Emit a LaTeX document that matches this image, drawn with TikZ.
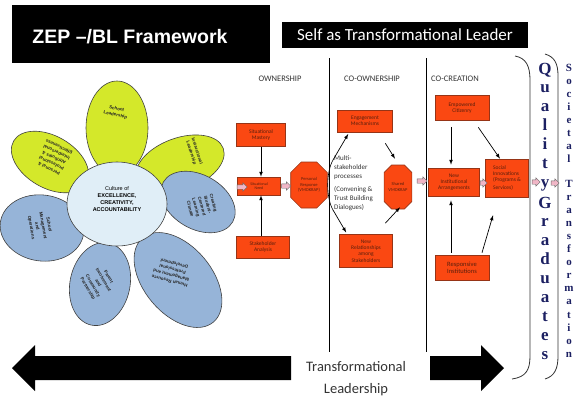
\documentclass[tikz,border=0pt]{standalone}
\usepackage{fontspec}
\setmainfont{Carlito}
\newfontfamily\arialfont{Liberation Sans}
\newfontfamily\letterfont{Liberation Serif}
\usetikzlibrary{shapes.arrows,shapes.misc}

\definecolor{petalgreen}{RGB}{212,232,42}
\definecolor{petalblue}{RGB}{150,180,216}
\definecolor{coreblue}{RGB}{224,238,247}
\definecolor{boxred}{RGB}{250,72,18}
\definecolor{boxedge}{RGB}{150,52,22}
\definecolor{pinkfill}{RGB}{240,182,198}
\definecolor{navyletter}{RGB}{28,32,98}

\tikzset{
  petal/.style={draw=black!75, line width=0.6pt},
  petaltext/.style={font=\arialfont\bfseries\fontsize{4.5}{6}\selectfont, align=center, inner sep=0pt, text=black!85},
  redbox/.style={draw=boxedge, fill=boxred, line width=0.6pt, align=center, inner sep=1pt,
    font=\fontsize{5.5}{6.2}\selectfont, text=boxedge!60!black},
  octa/.style={redbox, chamfered rectangle, chamfered rectangle xsep=8pt, inner sep=0pt,
    font=\fontsize{4.5}{5.5}\selectfont},
  pinkarr/.style={single arrow, draw=black!60, fill=pinkfill, minimum height=10pt, inner sep=2pt,
    single arrow head extend=2pt, line width=0.4pt},
  header/.style={font=\fontsize{8.5}{10}\selectfont, text=black!80},
  flow/.style={-latex, line width=0.7pt},
  qletter/.style={font=\letterfont\bfseries\fontsize{17}{17}\selectfont, text=navyletter, anchor=base},
  sletter/.style={font=\letterfont\bfseries\fontsize{11}{11}\selectfont, text=navyletter, anchor=base},
}

\begin{document}
\begin{tikzpicture}[x=1pt,y=-1pt]
    \useasboundingbox (0,0) rectangle (580,405);

    % title boxes
    \node[fill=black, minimum width=258, minimum height=58, inner sep=0pt] (titlebox) at (141,34) {};
    \node[text=white, font=\arialfont\bfseries\fontsize{19.5}{20}\selectfont] (title) at (130,37) {ZEP –/BL Framework};
    \node[fill=black, text=white, minimum width=246, minimum height=26, inner sep=0pt,
      font=\fontsize{17}{18}\selectfont] (selfbox) at (405,35) {Self as Transformational Leader};

    % flower: petals
    \draw[petal, fill=petalgreen] (117,128) ellipse [x radius=31, y radius=47];
    \draw[petal, fill=petalgreen, rotate around={20:(180,164)}] (180,164) ellipse [x radius=46, y radius=26];
    \draw[petal, fill=petalgreen, rotate around={-30:(50,162)}] (50,162) ellipse [x radius=42, y radius=26];
    \draw[petal, fill=petalblue, rotate around={-8:(42,228)}] (42,228) ellipse [x radius=42, y radius=33];
    \draw[petal, fill=petalblue, rotate around={-12:(100,284)}] (100,284) ellipse [x radius=30, y radius=42];
    \draw[petal, fill=petalblue, rotate around={-50:(178,280)}] (178,280) ellipse [x radius=55, y radius=34];
    \draw[petal, fill=petalblue, rotate around={-30:(198,202)}] (198,202) ellipse [x radius=40, y radius=27];
    \draw[petal, fill=coreblue] (117,204) ellipse [x radius=50, y radius=42];

    \node[petaltext, rotate=-12] (schlead) at (116,112) {School\\Leadership};
    \node[petaltext, rotate=-72] (instlead) at (194,152) {Instructional\\Leadership};
    \node[petaltext, rotate=155] (persattr) at (54,158) {Personal \&\\Professional\\Attributes \&\\Interpersonal\\Effectiveness};
    \node[petaltext, rotate=-80] (schmgmt) at (40,226) {School\\Management\\and\\Operations};
    \node[petaltext, rotate=-60] (parent) at (98,283) {Parent\\Involvement\\and\\Community\\Partnership};
    \node[petaltext, rotate=165] (hrmgmt) at (172,272) {Human Resource\\Management and\\Professional\\Development};
    \node[petaltext, rotate=-75] (climate) at (202,206) {Creating\\Student-\\Centered\\Learning\\Climate};
    \node[font=\arialfont\fontsize{5.5}{7}\selectfont, align=center, inner sep=0pt] (culture) at (117,199)
      {Culture of\\\textbf{EXCELLENCE,}\\\textbf{CREATIVITY,}\\\textbf{ACCOUNTABILITY}};

    % column dividers
    \draw[line width=0.7pt] (329,58) -- (329,352);
    \draw[line width=0.7pt] (426,58) -- (426,352);
    \draw[line width=0.8pt, black!80] (515,56) .. controls (526,58) and (530,66) .. (530,80) -- (530,356)
      .. controls (530,370) and (526,377) .. (512,379);
    \draw[line width=0.8pt, black!80] (545,54) .. controls (555,57) and (558,64) .. (558,76) -- (558,356)
      .. controls (558,368) and (555,376) .. (545,379);

    \node[header] (own) at (280,79) {OWNERSHIP};
    \node[header] (coown) at (372,79) {CO-OWNERSHIP};
    \node[header] (cocreate) at (455,79) {CO-CREATION};

    % ownership
    \node[redbox, minimum width=49, minimum height=23] (sitmastery) at (261,135) {Situational\\Mastery};
    \node[redbox, minimum width=43, minimum height=18, font=\fontsize{4}{4.6}\selectfont] (sitneed) at (259,186) {Situational\\Need};
    \node[redbox, minimum width=53, minimum height=22] (stakeholder) at (263,247) {Stakeholder\\Analysis};
    \node[octa, minimum width=22, minimum height=46] (personal) at (309,185) {Personal\\Response\\(VMOKRAP)};
    \draw[flow] (sitmastery.south) -- (sitmastery.south |- sitneed.north);
    \draw[flow] (stakeholder.north -| sitmastery.south) -- (sitneed.south -| sitmastery.south);
    \node[pinkarr] (inarr) at (241,187) {};
    \node[pinkarr, minimum height=9pt] (needarr) at (285,186) {};

    % co-ownership
    \coordinate (forktop) at (333,160);
    \coordinate (forkbot) at (333,210);
    \draw[line width=0.6pt] (forktop) .. controls (326,172) and (326,198) .. (forkbot);
    \node[redbox, minimum width=55, minimum height=22] (engage) at (365,121) {Engagement\\Mechanisms};
    \node[octa, minimum width=18, minimum height=44] (shared) at (398,187) {Shared\\VMOKRAP};
    \node[redbox, minimum width=53, minimum height=33] (newrel) at (366,251) {New\\Relationships\\among\\Stakeholders};
    \node[font=\fontsize{7}{9}\selectfont, align=left, anchor=north west, inner sep=0pt, text=black!80] (multi) at (334,155)
      {Multi-\\stakeholder\\processes\\[4pt](Convening \&\\Trust Building\\Dialogues)};
    \draw[flow, shorten >=2pt] (forktop) -- ([xshift=12pt]engage.south west);
    \draw[flow, shorten >=2pt] (forkbot) -- ([xshift=8pt]newrel.north west);
    \draw[flow] ([shift={(-7.5,11)}]engage.south east) -- ([shift={(-3,-6)}]shared.north);
    \draw[flow] ([shift={(-7.5,-11)}]newrel.north east) -- ([shift={(2,-2)}]shared.south);
    \node[pinkarr] (sharedarr) at (421,181) {};

    % co-creation
    \node[redbox, minimum width=54, minimum height=25] (empowered) at (462,108) {Empowered\\Citizenry};
    \node[redbox, minimum width=51, minimum height=28] (newinst) at (454,182) {New\\Institutional\\Arrangements};
    \node[redbox, minimum width=43, minimum height=38, align=left] (social) at (507,178) {Social\\Innovations\\(Programs \&\\[2pt]Services)};
    \node[redbox, minimum width=54, minimum height=25, font=\fontsize{6.5}{7.5}\selectfont] (responsive) at (462,268) {Responsive\\Institutions};
    \draw[flow] ([shift={(-11,6)}]empowered.south) -- ([shift={(-3,-3)}]newinst.north);
    \draw[flow] ([shift={(-11,6.5)}]empowered.south east) -- ([shift={(-7,0)}]social.north);
    \draw[flow] ([shift={(-11,-2.5)}]responsive.north) -- ([shift={(-3,4)}]newinst.south);
    \draw[flow] ([shift={(20,-2.5)}]responsive.north) -- ([shift={(-14,18)}]social.south);
    \node[pinkarr, minimum height=7pt] (instarr) at (482.5,183) {};
    \node[pinkarr, minimum height=8pt] (socialarr) at (535,182) {};
    \node[pinkarr, minimum height=8pt] (gradarr) at (554,183) {};

    % outcomes
    \foreach \ch [count=\i from 0] in {Q,u,a,l,i,t,y}
      \node[qletter] (qual\i) at (545,{74+18.9*\i}) {\ch};
    \foreach \ch [count=\i from 0] in {G,r,a,d,u,a,t,e,s}
      \node[qletter] (grad\i) at (545,{208+18.9*\i}) {\ch};
    \foreach \ch [count=\i from 0] in {S,o,c,i,e,t,a,l}
      \node[sletter] (soc\i) at (569,{71+13*\i}) {\ch};
    \foreach \ch [count=\i from 0] in {T,r,a,n,s,f,o,r,m,a,t,i,o,n}
      \node[sletter] (trans\i) at (569,{187+13.1*\i}) {\ch};

    % transformational leadership arrows
    \fill (291,356) -- (35,356) -- (35,345) -- (12,368) -- (35,391) -- (35,380) -- (291,380) -- cycle;
    \fill (430,356) -- (481,356) -- (481,345) -- (504,368) -- (481,391) -- (481,380) -- (430,380) -- cycle;
    \node[font=\fontsize{14.5}{22}\selectfont, align=center, text=black!80] (translead) at (356,379) {Transformational\\Leadership};
\end{tikzpicture}
\end{document}
